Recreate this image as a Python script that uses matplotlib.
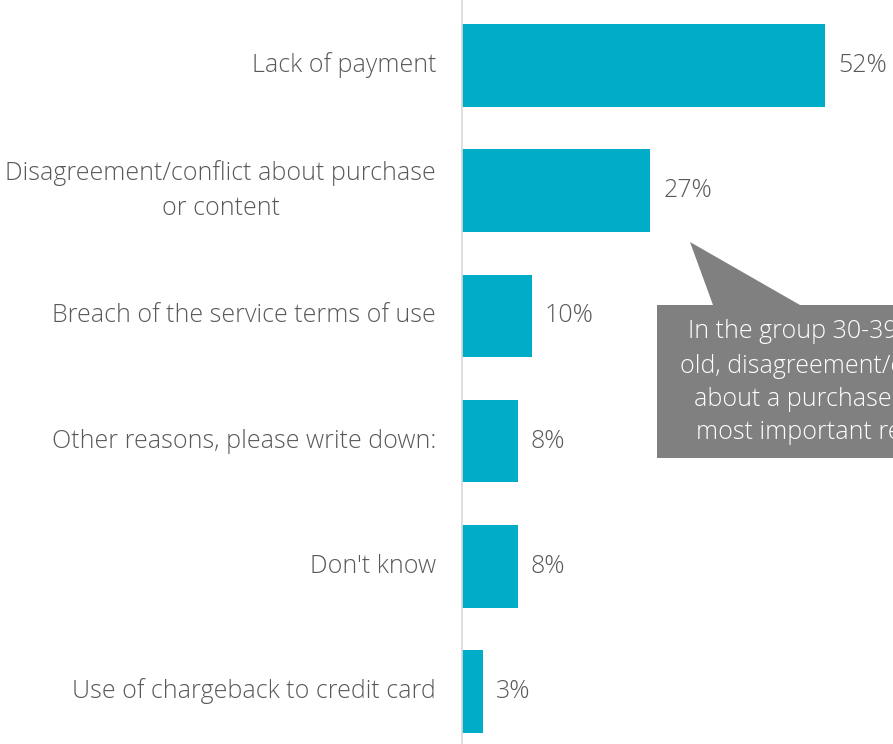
import matplotlib.pyplot as plt
from matplotlib.patches import Polygon

# survey answers, share of respondents in %
reasons = ['Lack of payment',
           'Disagreement/conflict about purchase\nor content',
           'Breach of the service terms of use',
           'Other reasons, please write down:',
           "Don't know",
           'Use of chargeback to credit card']
shares = [52, 27, 10, 8, 8, 3]
value_labels = ['52%', '27%', '10%', '8%', '8%', '3%']
note = ('In the group 30-39 years\nold, disagreement/conflict\n'
        'about a purchase is the\nmost important reason')

plt.rcParams['font.family'] = ['Open Sans', 'DejaVu Sans']
text_col = '#595959'
fs = 18

fig = plt.figure(figsize=(8.93, 7.44), dpi=100)
ax = fig.add_axes([462 / 893, 0, 1 - 462 / 893, 1])

ypos = list(range(len(reasons)))
ax.barh(ypos, shares, height=0.66, color='#00ACC8')
ax.set_xlim(0, 431 / 6.98)
ax.set_ylim(5.42, -0.523)

for y, v, lab in zip(ypos, shares, value_labels):
    ax.text(v + 13 / 6.98, y, lab, va='center', ha='left',
            fontsize=fs, color=text_col, fontweight='light')

for y, lab in zip(ypos, reasons):
    ax.text(-26 / 6.98, y, lab, va='center', ha='right', multialignment='center',
            fontsize=fs, color=text_col, linespacing=1.55, fontweight='light')

ax.set_xticks([])
ax.set_yticks([])
for s in ['top', 'right', 'bottom']:
    ax.spines[s].set_visible(False)
ax.spines['left'].set_color('#d9d9d9')
ax.spines['left'].set_linewidth(1.2)

# callout box with pointer towards the second bar
W, H = 893, 744
pts = [(657, 305), (713, 305), (690, 242), (800, 305), (985, 305),
       (985, 458), (657, 458)]
callout = Polygon([(x / W, 1 - y / H) for x, y in pts], closed=True,
                  facecolor='#808080', edgecolor='none',
                  transform=fig.transFigure)
fig.patches.append(callout)
fig.text(826 / W, 1 - 382 / H, note, ha='center', va='center', fontsize=fs,
         color='white', linespacing=1.42, fontweight='light')

fig.savefig('out.png', dpi=100)
